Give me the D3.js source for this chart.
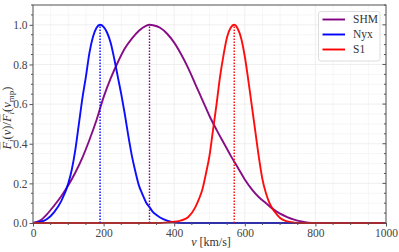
<!DOCTYPE html>
<html><head><meta charset="utf-8">
<script src="https://cdn.jsdelivr.net/npm/d3@7"></script>
<style>body{margin:0;background:#fff}svg{display:block}text{font-family:"Liberation Serif","DejaVu Serif",serif}</style>
</head><body><svg id="c" width="399" height="252"></svg>
<script>
const seriesNames = ["SHM", "Nyx", "S1"];
const seriesColors = ["#800080", "#0000ff", "#ff0000"];
const vPeak = [330, 190, 570];
const shmV = [0,20,40,60,80,100,120,140,160,180,200,220,240,260,280,300,320,330,340,360,380,400,420,440,460,480,500,520,540,560,580,600,620,640,660,680,700,720,740,760,780,800,1000];
const shmF = [0,0.012,0.045,0.088,0.135,0.19,0.255,0.33,0.42,0.52,0.635,0.73,0.81,0.88,0.93,0.97,0.995,1.0,0.998,0.985,0.955,0.91,0.85,0.78,0.70,0.62,0.54,0.47,0.405,0.34,0.28,0.22,0.17,0.13,0.1,0.07,0.047,0.03,0.017,0.008,0.002,0,0];
const nyxV = [0,20,40,60,80,100,110,120,130,140,150,160,170,180,190,200,210,220,230,240,250,260,270,280,290,300,310,320,330,340,350,360,380,400,420,1000];
const nyxF = [0,0.005,0.02,0.055,0.11,0.2,0.27,0.37,0.5,0.63,0.74,0.86,0.94,0.985,1.0,0.99,0.96,0.91,0.83,0.74,0.65,0.55,0.44,0.34,0.26,0.19,0.145,0.105,0.08,0.055,0.04,0.028,0.012,0.003,0,0];
const s1V = [0,360,380,400,420,440,460,470,480,490,500,510,520,530,540,550,560,570,580,590,600,610,620,630,640,650,660,670,680,690,700,720,740,760,1000];
const s1F = [0,0,0.003,0.006,0.013,0.03,0.08,0.12,0.17,0.25,0.34,0.47,0.6,0.74,0.85,0.94,0.985,1.0,0.98,0.93,0.84,0.72,0.59,0.46,0.33,0.22,0.15,0.1,0.068,0.045,0.025,0.008,0.002,0,0];
const xTicks = [0,200,400,600,800,1000];
const yTicks = [0,0.2,0.4,0.6,0.8,1.0];

const svg = d3.select("#c");
const L=33, R=386, T=5, B=223;
const x = d3.scaleLinear().domain([0,1000]).range([L,R]);
const y = d3.scaleLinear().domain([0,1.1]).range([B,T]);

// grid
const g = svg.append("g");
d3.range(0,1001,50).forEach(v=>g.append("line").attr("x1",x(v)).attr("x2",x(v)).attr("y1",T).attr("y2",B)
  .attr("stroke", v%200===0?"#ebebeb":"#f4f4f4").attr("stroke-width",0.8));
d3.range(0,1.1001,0.05).forEach(f=>g.append("line").attr("x1",L).attr("x2",R).attr("y1",y(f)).attr("y2",y(f))
  .attr("stroke", Math.round(f*100)%20===0?"#ebebeb":"#f4f4f4").attr("stroke-width",0.8));

const data = [[shmV,shmF],[nyxV,nyxF],[s1V,s1F]];
const line = d3.line().x(d=>x(d[0])).y(d=>y(d[1])).curve(d3.curveMonotoneX);
data.forEach((s,i)=>{
  const pts = s[0].map((v,j)=>[v,s[1][j]]);
  svg.append("path").attr("d",line(pts)).attr("fill","none").attr("stroke",seriesColors[i]).attr("stroke-width",1.9).attr("stroke-opacity",0.95);
});
vPeak.forEach((v,i)=>{
  svg.append("line").attr("x1",x(v)).attr("x2",x(v)).attr("y1",y(0)).attr("y2",y(1))
    .attr("stroke",seriesColors[i]).attr("stroke-width",1.4).attr("stroke-dasharray","1.4,1.6");
});

// axes frame
svg.append("rect").attr("x",L).attr("y",T).attr("width",R-L).attr("height",B-T).attr("fill","none").attr("stroke","#555").attr("stroke-width",1);
const xa = svg.append("g").attr("transform",`translate(0,${B})`)
  .call(d3.axisBottom(x).tickValues(xTicks).tickSize(3.5).tickPadding(2).tickFormat(d3.format("d")));
const ya = svg.append("g").attr("transform",`translate(${L},0)`)
  .call(d3.axisLeft(y).tickValues(yTicks).tickSize(3.5).tickPadding(2).tickFormat(d3.format(".1f")));
[xa,ya].forEach(a=>{a.select(".domain").remove();a.selectAll("line").attr("stroke","#555");
  a.selectAll("text").attr("font-size",11.5).attr("fill","#444").attr("font-family","Liberation Serif, serif");});
// minor ticks
d3.range(0,1001,50).forEach(v=>{ if(v%200) svg.append("line").attr("x1",x(v)).attr("x2",x(v)).attr("y1",B).attr("y2",B+2).attr("stroke","#555");});
d3.range(0,1.1001,0.05).forEach(f=>{
  const maj = Math.round(f*100)%20===0;
  if(!maj) svg.append("line").attr("x1",L-2).attr("x2",L).attr("y1",y(f)).attr("y2",y(f)).attr("stroke","#555");
  svg.append("line").attr("x1",R-(maj?3.5:2)).attr("x2",R).attr("y1",y(f)).attr("y2",y(f)).attr("stroke","#555");
});

// axis labels
const xl = svg.append("text").attr("x",211).attr("y",246).attr("text-anchor","middle").attr("font-size",12).attr("fill","#333");
xl.append("tspan").attr("font-style","italic").text("v");
xl.append("tspan").text(" [km/s]");
const yl = svg.append("text").attr("transform","translate(11,118) rotate(-90)").attr("text-anchor","middle").attr("font-size",12.5).attr("fill","#333");
const sub = 9;
yl.append("tspan").attr("font-style","italic").attr("text-decoration","overline").text("F");
yl.append("tspan").attr("font-style","italic").attr("font-size",sub).attr("dy",2.5).text("i");
yl.append("tspan").attr("dy",-2.5).text("(");
yl.append("tspan").attr("font-style","italic").text("v");
yl.append("tspan").text(")/");
yl.append("tspan").attr("font-style","italic").attr("text-decoration","overline").text("F");
yl.append("tspan").attr("font-style","italic").attr("font-size",sub).attr("dy",2.5).text("i");
yl.append("tspan").attr("dy",-2.5).text("(");
yl.append("tspan").attr("font-style","italic").text("v");
yl.append("tspan").attr("font-size",sub).attr("dy",2.5).text("mp");
yl.append("tspan").attr("dy",-2.5).text(")");

// legend
const lg = svg.append("g");
lg.append("rect").attr("x",318.5).attr("y",11.5).attr("width",61.5).attr("height",49.5).attr("rx",2.5)
  .attr("fill","#fff").attr("fill-opacity",0.85).attr("stroke","#ddd").attr("stroke-width",1);
seriesNames.forEach((n,i)=>{
  const yy = 19.5 + i*15;
  lg.append("line").attr("x1",322.5).attr("x2",345).attr("y1",yy).attr("y2",yy).attr("stroke",seriesColors[i]).attr("stroke-width",1.9);
  lg.append("text").attr("x",353).attr("y",yy+3.8).attr("font-size",11.5).attr("fill","#333").text(n);
});
</script></body></html>
